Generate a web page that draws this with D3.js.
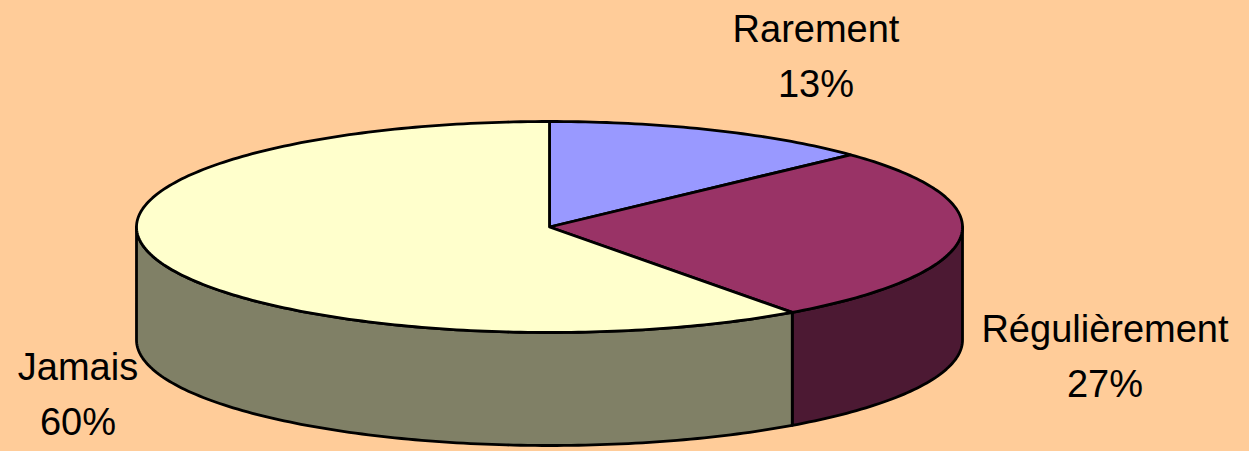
<!DOCTYPE html>
<html>
<head>
<meta charset="utf-8">
<script src="https://cdn.jsdelivr.net/npm/d3@7"></script>
<style>
  html, body { margin: 0; padding: 0; background: #FFCC99; }
  svg { display: block; }
  text { font-family: "Liberation Sans", Arial, Helvetica, sans-serif; fill: #000; }
</style>
</head>
<body>
<svg id="chart" width="1249" height="451"></svg>
<script>
// Survey answers and their shares (percent)
const categories = ["Rarement", "Régulièrement", "Jamais"];
const values = [13, 27, 60];
const topColors = ["#9999FF", "#993366", "#FFFFCC"];
const sideColors = ["#4C4C80", "#4C1933", "#808066"];

// Geometry of the tilted pie
const W = 1249, H = 451;
const cx = 549.5, cy = 227, rx = 413, ry = 105.5, depth = 113;

// Label placement (centre x, baseline of first line)
const labelPos = [
  { x: 816, y: 42 },
  { x: 1105, y: 342 },
  { x: 78, y: 380 }
];
const lineGap = 55;

const svg = d3.select("#chart");
svg.append("rect").attr("width", W).attr("height", H).attr("fill", "#FFCC99");

const pie = d3.pie().sort(null).value(d => d)(values);

// angle measured clockwise from 12 o'clock, as d3.pie provides
const px = a => cx + rx * Math.sin(a);
const py = (a, dz = 0) => cy - ry * Math.cos(a) + dz;

function arcPoints(a0, a1, dz) {
  const n = Math.max(2, Math.ceil(Math.abs(a1 - a0) / (Math.PI / 180)));
  const pts = [];
  for (let i = 0; i <= n; i++) {
    const a = a0 + (a1 - a0) * i / n;
    pts.push([px(a), py(a, dz)]);
  }
  return pts;
}

const line = d3.line();
const stroke = { color: "#000", width: 2.8 };

// Front walls: only the part facing the viewer (between 90° and 270°)
const frontA = Math.PI / 2, frontB = 3 * Math.PI / 2;
const sides = svg.append("g");
pie.forEach((s, i) => {
  const a0 = Math.max(s.startAngle, frontA);
  const a1 = Math.min(s.endAngle, frontB);
  if (a1 <= a0) return;
  const top = arcPoints(a0, a1, 0);
  const bottom = arcPoints(a1, a0, depth);
  sides.append("path")
    .attr("d", line(top.concat(bottom)) + "Z")
    .attr("fill", sideColors[i])
    .attr("stroke", stroke.color)
    .attr("stroke-width", stroke.width)
    .attr("stroke-linejoin", "round");
});

// Top faces
const tops = svg.append("g");
pie.forEach((s, i) => {
  const pts = [[cx, cy]].concat(arcPoints(s.startAngle, s.endAngle, 0));
  tops.append("path")
    .attr("d", line(pts) + "Z")
    .attr("fill", topColors[i])
    .attr("stroke", stroke.color)
    .attr("stroke-width", stroke.width)
    .attr("stroke-linejoin", "round");
});

// Category labels with percentages
const labels = svg.append("g").attr("font-size", 38).attr("text-anchor", "middle");
pie.forEach((s, i) => {
  const t = labels.append("text").attr("x", labelPos[i].x).attr("y", labelPos[i].y);
  t.append("tspan").attr("x", labelPos[i].x).text(categories[i]);
  t.append("tspan").attr("x", labelPos[i].x).attr("dy", lineGap).text(values[i] + "%");
});
</script>
</body>
</html>
